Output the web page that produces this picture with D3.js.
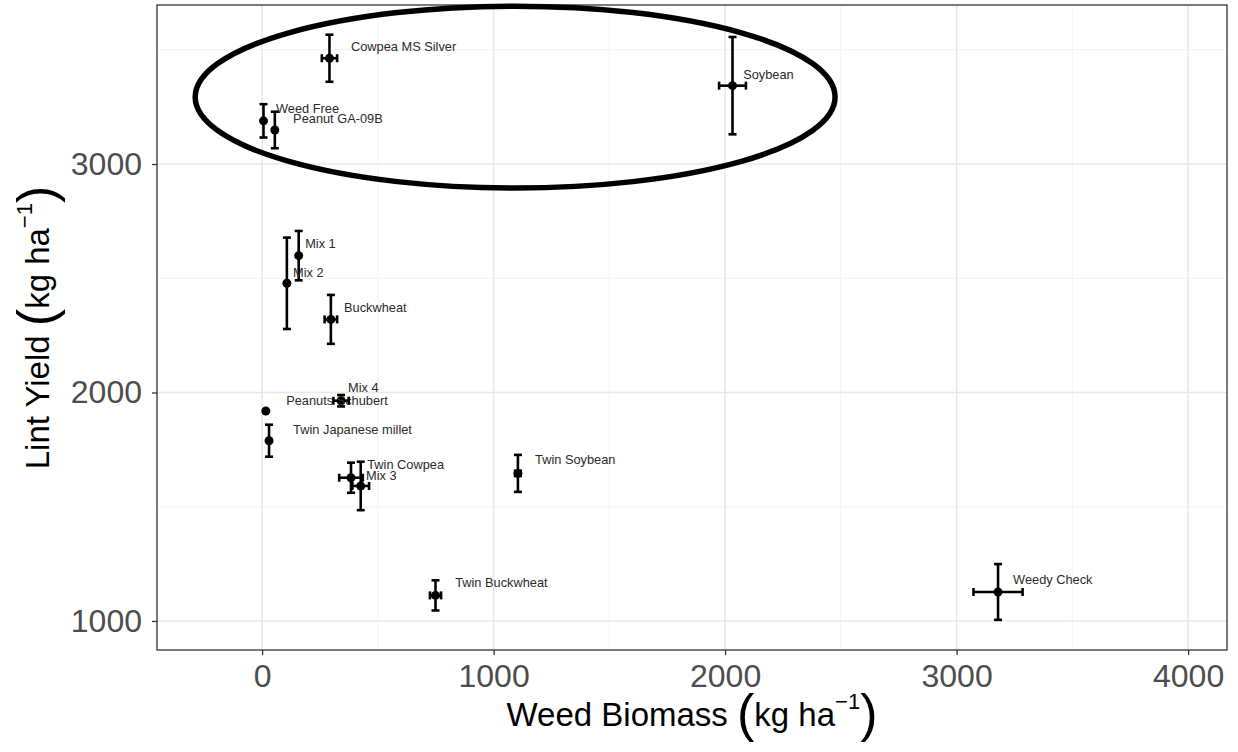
<!DOCTYPE html>
<html>
<head>
<meta charset="utf-8">
<script src="https://cdn.jsdelivr.net/npm/d3@7"></script>
<style>
  html, body { margin: 0; padding: 0; background: #fff; }
  svg { display: block; }
</style>
</head>
<body>
<svg id="chart" width="1238" height="752"></svg>
<script>
// ---- data ----
const treatments = ["Cowpea MS Silver", "Soybean", "Weed Free", "Peanut GA-09B", "Mix 1", "Mix 2",
  "Buckwheat", "Mix 4", "Peanuts Schubert", "Twin Japanese millet", "Twin Cowpea", "Mix 3",
  "Twin Soybean", "Twin Buckwheat", "Weedy Check"];
const weedBiomass = [291, 2032, 6, 55, 158, 107, 297, 341, 16, 30, 384, 426, 1105, 749, 3179];
const weedBiomassSE = [33, 58, 0, 0, 0, 0, 27, 33, 0, 0, 51, 36, 12, 24, 106];
const lintYield = [3463, 3343, 3189, 3149, 2599, 2478, 2320, 1964, 1919, 1789, 1627, 1591, 1646, 1112, 1127];
const lintYieldSE = [103, 213, 73, 80, 108, 200, 107, 25, 0, 70, 66, 106, 81, 66, 122];
// label anchor points (data units)
const labelX = [384, 2078, 60, 134, 186, 134, 354, 371, 104, 134, 454, 449, 1179, 834, 3244];
const labelY = [3516, 3394, 3245, 3201, 2650, 2527, 2370, 2020, 1967, 1836, 1683, 1635, 1705, 1169, 1182];
const xTicks = [0, 1000, 2000, 3000, 4000];
const xMinor = [500, 1500, 2500, 3500];
const yTicks = [1000, 2000, 3000];
const yMinor = [1500, 2500, 3500];
const xDomain = [-454, 4168];
const yDomain = [873, 3696];
// highlight ellipse (data units): centre x, centre y, radius x, radius y
const ellipseSpec = [1093, 3293, 1382, 398];

// ---- layout ----
const svg = d3.select("#chart");
const pLeft = 157, pRight = 1227, pTop = 5, pBottom = 650;
const x = d3.scaleLinear().domain(xDomain).range([pLeft, pRight]);
const y = d3.scaleLinear().domain(yDomain).range([pBottom, pTop]);

const font = "'Liberation Sans', Arial, sans-serif";

// grid
const g = svg.append("g");
g.selectAll(".vminor").data(xMinor).join("line")
  .attr("x1", d => x(d)).attr("x2", d => x(d)).attr("y1", pTop).attr("y2", pBottom)
  .attr("stroke", "#f2f2f2").attr("stroke-width", 1);
g.selectAll(".hminor").data(yMinor).join("line")
  .attr("y1", d => y(d)).attr("y2", d => y(d)).attr("x1", pLeft).attr("x2", pRight)
  .attr("stroke", "#f2f2f2").attr("stroke-width", 1);
g.selectAll(".vmajor").data(xTicks).join("line")
  .attr("x1", d => x(d)).attr("x2", d => x(d)).attr("y1", pTop).attr("y2", pBottom)
  .attr("stroke", "#e8e8e8").attr("stroke-width", 1.6);
g.selectAll(".hmajor").data(yTicks).join("line")
  .attr("y1", d => y(d)).attr("y2", d => y(d)).attr("x1", pLeft).attr("x2", pRight)
  .attr("stroke", "#e8e8e8").attr("stroke-width", 1.6);

// axes
const xAxis = svg.append("g").attr("transform", `translate(0,${pBottom})`)
  .call(d3.axisBottom(x).tickValues(xTicks).tickSize(5).tickPadding(10).tickFormat(d3.format("d")));
const yAxis = svg.append("g").attr("transform", `translate(${pLeft},0)`)
  .call(d3.axisLeft(y).tickValues(yTicks).tickSize(5).tickPadding(10).tickFormat(d3.format("d")));
[xAxis, yAxis].forEach(a => {
  a.select(".domain").remove();
  a.selectAll(".tick line").attr("stroke", "#333").attr("stroke-width", 1.3);
  a.selectAll(".tick text").attr("fill", "#4d4d4d").style("font-family", font).style("font-size", "32px");
});
xAxis.selectAll(".tick text").attr("dy", "0.7em");

// panel border
svg.append("rect").attr("x", pLeft).attr("y", pTop).attr("width", pRight - pLeft).attr("height", pBottom - pTop)
  .attr("fill", "none").attr("stroke", "#333").attr("stroke-width", 1.3);

// error bars
const eb = svg.append("g").attr("stroke", "#000").attr("stroke-width", 2.6);
const idx = d3.range(treatments.length);
const cap = 4;
idx.forEach(i => {
  const cx = x(weedBiomass[i]), cy = y(lintYield[i]);
  if (lintYieldSE[i] > 0) {
    const y1 = y(lintYield[i] + lintYieldSE[i]), y2 = y(lintYield[i] - lintYieldSE[i]);
    eb.append("line").attr("x1", cx).attr("x2", cx).attr("y1", y1).attr("y2", y2);
    eb.append("line").attr("x1", cx - cap).attr("x2", cx + cap).attr("y1", y1).attr("y2", y1);
    eb.append("line").attr("x1", cx - cap).attr("x2", cx + cap).attr("y1", y2).attr("y2", y2);
  }
  if (weedBiomassSE[i] > 0) {
    const x1 = x(weedBiomass[i] - weedBiomassSE[i]), x2 = x(weedBiomass[i] + weedBiomassSE[i]);
    eb.append("line").attr("x1", x1).attr("x2", x2).attr("y1", cy).attr("y2", cy);
    eb.append("line").attr("x1", x1).attr("x2", x1).attr("y1", cy - cap).attr("y2", cy + cap);
    eb.append("line").attr("x1", x2).attr("x2", x2).attr("y1", cy - cap).attr("y2", cy + cap);
  }
});

// points
svg.append("g").selectAll("circle").data(idx).join("circle")
  .attr("cx", i => x(weedBiomass[i])).attr("cy", i => y(lintYield[i]))
  .attr("r", 4.5).attr("fill", "#000");

// labels
svg.append("g").selectAll("text").data(idx).join("text")
  .attr("x", i => x(labelX[i])).attr("y", i => y(labelY[i]))
  .attr("dominant-baseline", "central")
  .attr("fill", "#2b2b2b").style("font-family", font).style("font-size", "12.8px")
  .text(i => treatments[i]);

// ellipse annotation
const [ecx, ecy, erx, ery] = ellipseSpec;
svg.append("ellipse")
  .attr("cx", x(ecx)).attr("cy", y(ecy))
  .attr("rx", x(ecx + erx) - x(ecx)).attr("ry", y(ecy) - y(ecy + ery))
  .attr("fill", "none").attr("stroke", "#000").attr("stroke-width", 5.5);

// axis titles
function unitTitle(sel, label) {
  sel.append("tspan").text(label + " ");
  sel.append("tspan").style("font-size", "52px").attr("dy", 5).text("(");
  sel.append("tspan").attr("dy", -5).text("kg ha");
  sel.append("tspan").style("font-size", "22px").attr("dy", -17).text("−1");
  sel.append("tspan").style("font-size", "52px").attr("dy", 22).text(")");
}
const xt = svg.append("text").attr("x", (pLeft + pRight) / 2).attr("y", 726)
  .attr("text-anchor", "middle").attr("fill", "#000")
  .style("font-family", font).style("font-size", "33px");
unitTitle(xt, "Weed Biomass");

const yt = svg.append("text").attr("transform", `translate(49,${(pTop + pBottom) / 2}) rotate(-90)`)
  .attr("text-anchor", "middle").attr("fill", "#000")
  .style("font-family", font).style("font-size", "33px");
unitTitle(yt, "Lint Yield");
</script>
</body>
</html>
